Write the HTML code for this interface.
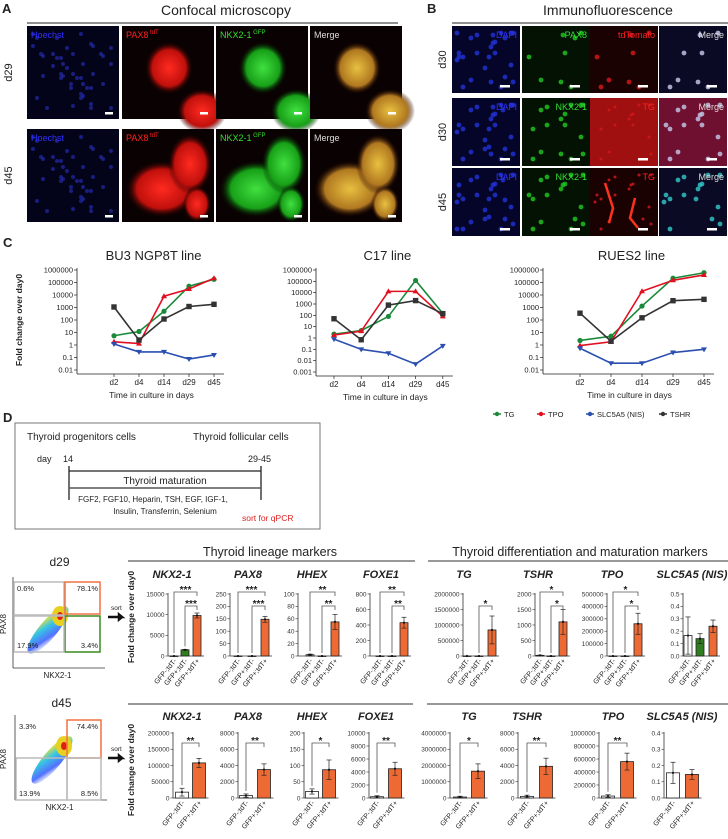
<!DOCTYPE html>
<html><head><meta charset="utf-8"><style>
body{margin:0;background:#fff}
svg{display:block;font-family:"Liberation Sans",sans-serif}
</style></head><body>
<svg id="fig" width="728" height="839" viewBox="0 0 728 839" xmlns="http://www.w3.org/2000/svg">
<defs>
<radialGradient id="gR"><stop offset="0" stop-color="#ff2a20"/><stop offset="0.7" stop-color="#c0100c"/><stop offset="1" stop-color="#200000" stop-opacity="0"/></radialGradient>
<radialGradient id="gG"><stop offset="0" stop-color="#40e040"/><stop offset="0.7" stop-color="#18a018"/><stop offset="1" stop-color="#002000" stop-opacity="0"/></radialGradient>
<radialGradient id="gY"><stop offset="0" stop-color="#e8c040"/><stop offset="0.7" stop-color="#b07820"/><stop offset="1" stop-color="#200000" stop-opacity="0"/></radialGradient>
<linearGradient id="flow" x1="0" y1="1" x2="1" y2="0"><stop offset="0" stop-color="#fff" stop-opacity="0"/><stop offset="0.3" stop-color="#4060ff"/><stop offset="0.6" stop-color="#20c0e0"/><stop offset="0.85" stop-color="#f0e020"/><stop offset="1" stop-color="#e02010"/></linearGradient>
</defs>
<g id="root"></g>
</svg>
<script>
const NS="http://www.w3.org/2000/svg";
const root=document.getElementById('root');
function el(tag,attrs,parent,txt){const e=document.createElementNS(NS,tag);for(const k in attrs)e.setAttribute(k,attrs[k]);if(txt!==undefined)e.textContent=txt;(parent||root).appendChild(e);return e;}
function txt(x,y,s,size,opts,parent){opts=opts||{};const a={x:x,y:y,'font-size':size,fill:opts.fill||'#222'};if(opts.anchor)a['text-anchor']=opts.anchor;if(opts.weight)a['font-weight']=opts.weight;if(opts.style)a['font-style']=opts.style;if(opts.tr)a.transform=opts.tr;return el('text',a,parent,s);}
function scatter(k,w,h){return [((k*37+(k*k*11))%w),((k*53+k*k*7)%h)];}

/* ---------- Panel A / B microscopy ---------- */
const gA=el('g',{});


txt(2,13,'A',13,{weight:'bold'},gA);
txt(226,15,'Confocal microscopy',14,{anchor:'middle'},gA);
el('line',{x1:27,y1:23,x2:398,y2:23,stroke:'#222','stroke-width':1},gA);
const aCols=[27,122,216,310], aW=92, aRows=[[26,93],[129,93]];
const aLab=['Hoechst','PAX8','NKX2-1','Merge'], aCol=['#3030ff','#ff2020','#30e030','#ddd'];
const aSup=['','tdT','GFP',''];
const aFill=[null,'url(#gR)','url(#gG)','url(#gY)'];
aRows.forEach((r,ri)=>{
  txt(12,r[0]+r[1]/2,ri?'d45':'d29',11,{anchor:'middle',tr:`rotate(-90 12 ${r[0]+r[1]/2})`},gA);
  aCols.forEach((x,ci)=>{
    const g=el('g',{},gA);
    
    
    el('rect',{x:x,y:r[0],width:aW,height:r[1],fill:ci==0?'#03031a':'#0a0202'},g);
    if(ci==0){for(let k=0;k<45;k++){const p=scatter(k,80,80);el('circle',{cx:x+6+p[0],cy:r[0]+8+p[1],r:2,fill:'#2228a0',opacity:0.75},g);}}
    else if(ri==0){el('ellipse',{cx:x+47,cy:r[0]+42,rx:24,ry:26,fill:aFill[ci]},g);el('ellipse',{cx:x+80,cy:r[0]+85,rx:25,ry:22,fill:aFill[ci]},g);}
    else{el('ellipse',{cx:x+40,cy:r[0]+60,rx:36,ry:28,fill:aFill[ci]},g);el('ellipse',{cx:x+68,cy:r[0]+35,rx:22,ry:30,fill:aFill[ci]},g);el('ellipse',{cx:x+75,cy:r[0]+75,rx:14,ry:18,fill:aFill[ci]},g);}
    const t=txt(x+4,r[0]+12,aLab[ci],9,{fill:aCol[ci]},g);
    if(aSup[ci]){el('tspan',{'font-size':6,dy:-4},t,' '+aSup[ci]);}
    el('rect',{x:x+aW-14,y:r[0]+r[1]-7,width:8,height:2.5,fill:'#fff'},g);
  });
});
const gB=el('g',{});


txt(427,13,'B',13,{weight:'bold'},gB);
txt(608,15,'Immunofluorescence',14,{anchor:'middle'},gB);
el('line',{x1:452,y1:23,x2:728,y2:23,stroke:'#222','stroke-width':1},gB);
const bCols=[452,522,590,659], bW=68;
const bRows=[[26,67,'d30',['DAPI','PAX8','tdTomato','Merge']],[98,68,'d30',['DAPI','NKX2-1','TG','Merge']],[168,68,'d45',['DAPI','NKX2-1','TG','Merge']]];
const bTxtCol=['#3030ff','#30e030','#ff2020','#ddd'];
bRows.forEach((r,ri)=>{
  txt(446,r[0]+r[1]/2,r[2],11,{anchor:'middle',tr:`rotate(-90 446 ${r[0]+r[1]/2})`},gB);
  bCols.forEach((x,ci)=>{
    const g=el('g',{},gB);
    
    
    const bg=ci==0?'#05052a':ci==1?'#031203':ci==2?(ri==1?'#a01010':'#1a0202'):(ri==1?'#701030':'#0a0a25');
    el('rect',{x:x,y:r[0],width:bW,height:r[1],fill:bg},g);
    const dotF=ci==0?'#2030d0':ci==1?'#20c020':ci==2?'#d01818':(ri==2?'#30c0c0':'#c0c0e0');
    const n=ci==0?26:(ri==0?8:16);
    for(let k=0;k<n;k++){const p=scatter(k+ri*3+ci,58,55);el('circle',{cx:x+5+p[0],cy:r[0]+7+p[1],r:ci==2&&ri>0?1.5:2.4,fill:dotF,opacity:0.85},g);}
    if(ci==2&&ri==2){el('path',{d:`M${x+15} ${r[0]+15} l8 25 l-4 15 M${x+45} ${r[0]+30} l-5 20 l8 10`,stroke:'#ff3020','stroke-width':2.5,fill:'none'},g);}
    txt(x+bW-3,r[0]+12,r[3][ci],9,{fill:bTxtCol[ci],anchor:'end'},g);
    el('rect',{x:x+bW-20,y:r[0]+r[1]-8,width:10,height:2.5,fill:'#fff'},g);
  });
});

/* ---------- Panel C: log line charts ---------- */
const days=["d2","d4","d14","d29","d45"];
const bu3TG=[5.5,12,500,50000,180000];
const bu3TPO=[1.8,1.3,8000,30000,220000];
const bu3NIS=[1.2,0.28,0.28,0.075,0.16];
const bu3TSHR=[1100,2.5,120,1200,1800];
const c17TG=[2.2,4.5,80,120000,150];
const c17TPO=[1.8,4,13000,13000,80];
const c17NIS=[0.8,0.1,0.045,0.005,0.2];
const c17TSHR=[50,0.7,800,2000,140];
const ruTG=[2.3,5,1300,220000,600000];
const ruTPO=[0.9,1.8,20000,150000,400000];
const ruNIS=[0.55,0.035,0.035,0.25,0.45];
const ruTSHR=[350,2,150,3500,4500];
const seriesNames=["TG","TPO","SLC5A5 (NIS)","TSHR"];
const seriesColors=["#1a8a3a","#e01020","#2a4fb0","#333333"];
const tickLabelsLog=["0.001","0.01","0.1","1","10","100","1000","10000","100000","1000000"];

txt(3,247,'C',13,{weight:'bold'});
function logChart(name,title,axisX,x0,dx,minExp,yTop,yBot,series){
  const g=el('g',{});
  
  
  const ys=v=>yBot-(Math.log10(v)-minExp)/(6-minExp)*(yBot-yTop);
  const xs=i=>x0+i*dx;
  txt((axisX+xs(4))/2+8,260,title,13,{anchor:'middle'},g);
  el('line',{x1:axisX,y1:yTop-2,x2:axisX,y2:yBot+4,stroke:'#222','stroke-width':0.8},g);
  el('line',{x1:axisX,y1:yBot+4,x2:xs(4)+10,y2:yBot+4,stroke:'#222','stroke-width':0.8},g);
  for(let e=minExp;e<=6;e++){const y=ys(Math.pow(10,e));el('line',{x1:axisX-3,y1:y,x2:axisX,y2:y,stroke:'#222','stroke-width':0.7},g);
    const t=txt(axisX-4,y+2.5,tickLabelsLog[e+3],7.5,{anchor:'end'},g);}
  days.forEach((d,i)=>{el('line',{x1:xs(i),y1:yBot+4,x2:xs(i),y2:yBot+7,stroke:'#222','stroke-width':0.7},g);txt(xs(i),yBot+15,d,8,{anchor:'middle'},g);});
  txt((axisX+xs(4))/2+6,yBot+28,'Time in culture in days',8.5,{anchor:'middle'},g);
  series.forEach((s,si)=>{
    const p=el('polyline',{points:s.map((v,i)=>xs(i)+','+ys(v)).join(' '),fill:'none',stroke:seriesColors[si],'stroke-width':1.6},g);
    
    
    s.forEach((v,i)=>{let m;
      if(si==0)m=el('circle',{cx:xs(i),cy:ys(v),r:2.6,fill:seriesColors[si]},g);
      else if(si==3)m=el('rect',{x:xs(i)-2.7,y:ys(v)-2.7,width:5.4,height:5.4,fill:seriesColors[si]},g);
      else if(si==1)m=el('path',{d:`M${xs(i)} ${ys(v)-3}l3 5h-6z`,fill:seriesColors[si]},g);
      else m=el('path',{d:`M${xs(i)} ${ys(v)+3}l3 -5h-6z`,fill:seriesColors[si]},g);
      });
  });
}
logChart('chart-bu3','BU3 NGP8T line',77,114,25,-2,270,370,[bu3TG,bu3TPO,bu3NIS,bu3TSHR]);
logChart('chart-c17','C17 line',316,334,27.2,-3,270,372,[c17TG,c17TPO,c17NIS,c17TSHR]);
logChart('chart-rues2','RUES2 line',543,580,31,-2,270,370,[ruTG,ruTPO,ruNIS,ruTSHR]);
txt(22,320,'Fold change over day0',8.5,{anchor:'middle',weight:'bold',tr:'rotate(-90 22 320)'});
const legX=[497,541,590,663];
seriesNames.forEach((n,i)=>{const g=el('g',{});
  el('line',{x1:legX[i]-4,y1:414,x2:legX[i]+4,y2:414,stroke:seriesColors[i],'stroke-width':1.5},g);
  el('circle',{cx:legX[i],cy:414,r:2.2,fill:seriesColors[i]},g);
  txt(legX[i]+7,417,n,7.5,{},g);});

/* ---------- Panel D schematic ---------- */
const gD=el('g',{});


txt(3,422,'D',13,{weight:'bold'},gD);
el('rect',{x:15,y:423,width:305,height:106,fill:'none',stroke:'#777','stroke-width':1},gD);
txt(27,440,'Thyroid progenitors cells',10,{},gD);
txt(193,440,'Thyroid follicular cells',10,{},gD);
txt(37,462,'day',9,{},gD);txt(63,462,'14',9,{},gD);txt(248,462,'29-45',9,{},gD);
el('line',{x1:69,y1:466,x2:69,y2:500,stroke:'#222','stroke-width':1.3},gD);
el('line',{x1:261,y1:466,x2:261,y2:500,stroke:'#222','stroke-width':1.3},gD);
el('line',{x1:69,y1:471,x2:261,y2:471,stroke:'#222','stroke-width':1.2},gD);
el('line',{x1:69,y1:488,x2:261,y2:488,stroke:'#555','stroke-width':1.5},gD);
txt(165,484,'Thyroid maturation',10,{anchor:'middle'},gD);
txt(153,502,'FGF2, FGF10, Heparin, TSH, EGF, IGF-1,',8,{anchor:'middle'},gD);
txt(165,514,'Insulin, Transferrin, Selenium',8,{anchor:'middle'},gD);
txt(242,521,'sort for qPCR',8.5,{fill:'#e02020'},gD);

/* ---------- Flow plots ---------- */
function flow(name,label,ly,ax0,ay0,ax1,ay1,sx,sy,boxes,pcts,arrowY){
  const g=el('g',{});
  
  
  txt((ax0+ax1)/2+2,ly,label,12,{anchor:'middle'},g);
  el('line',{x1:ax0,y1:ay0-3,x2:ax0,y2:ay1,stroke:'#333','stroke-width':0.8},g);
  el('line',{x1:ax0,y1:ay1,x2:ax1+3,y2:ay1,stroke:'#333','stroke-width':0.8},g);
  el('ellipse',{cx:sx,cy:sy,rx:30,ry:9,fill:'url(#flow)',transform:`rotate(-50 ${sx} ${sy})`,opacity:0.9},g);
  el('ellipse',{cx:sx+12,cy:sy-14,rx:8,ry:10,fill:'#e8d020'},g);
  el('ellipse',{cx:sx+12,cy:sy-14,rx:3,ry:4,fill:'#e02010'},g);
  boxes.forEach(b=>el('rect',{x:b[0],y:b[1],width:b[2],height:b[3],fill:'none',stroke:b[4],'stroke-width':1.5},g));
  pcts.forEach(p=>txt(p[0],p[1],p[2],7.5,{anchor:p[3]},g));
  txt(6,(ay0+ay1)/2,'PAX8',8,{anchor:'middle',tr:`rotate(-90 6 ${(ay0+ay1)/2})`},g);
  txt((ax0+ax1)/2,ay1+10,'NKX2-1',8,{anchor:'middle'},g);
  txt(111,arrowY-7,'sort',6.5,{},g);
  el('path',{d:`M108 ${arrowY}h14l-3 -2.5v5l3 -2.5`,stroke:'#111','stroke-width':2.5,fill:'none'},g);
}
flow('flow-plot-d29','d29',566,13,580,102,668,48,630,
 [[14,582,50,33,'#bbb'],[65,582,35,32,'#f07040'],[65,616,35,36,'#3a8a20'],[14,616,50,36,'#bbb']],
 [[17,591,'0.6%','start'],[98,591,'78.1%','end'],[17,648,'17.9%','start'],[98,648,'3.4%','end']],617);
flow('flow-plot-d45','d45',707,15,718,104,800,52,760,
 [[67,720,34,38,'#f07040'],[16,758,51,42,'#bbb'],[67,758,34,42,'#bbb']],
 [[19,729,'3.3%','start'],[98,729,'74.4%','end'],[19,796,'13.9%','start'],[98,796,'8.5%','end']],758);

/* ---------- Bar charts ---------- */
const cats3=["GFP-;tdT-","GFP+;tdT-","GFP+;tdT+"];
const cats2=["GFP-;tdT-","GFP+;tdT+"];
const barColors3=["#ffffff","#2e7d1e","#ee6a35"];
const barColors2=["#ffffff","#ee6a35"];
// row 1 (d29)
const r1Genes=["NKX2-1","PAX8","HHEX","FOXE1","TG","TSHR","TPO","SLC5A5 (NIS)"];
const r1Max=[15000,250,100,800,2000000,2000,500000,0.5];
const r1Step=[5000,50,20,200,500000,500,100000,0.1];
const r1Vals=[[0,1500,9800],[0,0,148],[2,0,55],[0,0,430],[0,0,840000],[20,0,1100],[0,0,260000],[0.165,0.14,0.24]];
const r1Err=[[0,100,600],[0,0,12],[1,0,12],[0,0,70],[0,0,450000],[10,0,400],[0,0,85000],[0.15,0.04,0.05]];
const r1Sig=[["***","***"],["***","***"],["**","**"],["**","**"],["","*"],["*","*"],["*","*"],["",""]];
// row 2 (d45)
const r2Max=[200000,8000,200,10000,4000000,8000,1000000,0.4];
const r2Step=[50000,2000,50,2000,1000000,2000,200000,0.1];
const r2Vals=[[18000,108000],[300,3500],[20,87],[200,4500],[60000,1650000],[200,3900],[30000,560000],[0.155,0.145]];
const r2Err=[[12000,14000],[200,700],[8,30],[150,1000],[50000,450000],[150,1000],[20000,130000],[0.065,0.03]];
const r2Sig=["**","**","*","**","*","**","**",""];

function barChart(name,gene,titleX,titleY,axisX,centers,bw,top,base,max,step,vals,errs,colors,cats,sigs,sigY){
  const g=el('g',{});
  
  
  const ys=v=>base-(v/max)*(base-top);
  const t=txt(titleX,titleY,gene,11,{anchor:'middle',weight:'bold',style:'italic'},g);
  
  el('line',{x1:axisX,y1:top-1,x2:axisX,y2:base,stroke:'#333','stroke-width':0.8},g);
  el('line',{x1:axisX,y1:base,x2:centers[centers.length-1]+bw/2+3,y2:base,stroke:'#333','stroke-width':0.8},g);
  const nT=Math.round(max/step);
  for(let k=0;k<=nT;k++){const v=k*step,y=ys(v);el('line',{x1:axisX-2.5,y1:y,x2:axisX,y2:y,stroke:'#333','stroke-width':0.6},g);
    const lab=step<1?v.toFixed(1):String(Math.round(v));
    const tl=txt(axisX-3.5,y+2.3,lab,6.5,{anchor:'end',fill:'#333'},g);}
  vals.forEach((v,i)=>{
    const cx=centers[i];
    const r=el('rect',{x:cx-bw/2,y:ys(v),width:bw,height:Math.max(0.5,base-ys(v)),fill:colors[i],stroke:'#222','stroke-width':0.8},g);
    
    if(errs[i]>0){const y1=ys(v+errs[i]),y2=ys(Math.max(0,v-errs[i]));
      el('line',{x1:cx,y1:y1,x2:cx,y2:y2,stroke:'#222','stroke-width':0.7},g);
      el('line',{x1:cx-2.5,y1:y1,x2:cx+2.5,y2:y1,stroke:'#222','stroke-width':0.7},g);
      el('line',{x1:cx-2.5,y1:y2,x2:cx+2.5,y2:y2,stroke:'#222','stroke-width':0.7},g);}
    el('circle',{cx:cx,cy:ys(v),r:1.1,fill:'#111'},g);
    const lx=cx+3,ly=base+5;
    const tx=txt(lx,ly,cats[i],7,{anchor:'end',fill:'#222',tr:`rotate(-50 ${lx} ${ly})`},g);
    
  });
  const last=centers.length-1;
  sigs.forEach((s,k)=>{ if(!s)return;
    const from=(sigs.length==2&&k==0)?0:last-1;
    const y=sigY[k];
    el('path',{d:`M${centers[from]} ${ys(vals[from]+errs[from])-3}V${y}H${centers[last]}V${y+4}`,fill:'none',stroke:'#555','stroke-width':0.8},g);
    txt((centers[from]+centers[last])/2,y+1,s,10,{anchor:'middle',weight:'bold'},g);
  });
}
const gH=el('g',{});


txt(270,556,'Thyroid lineage markers',12.5,{anchor:'middle'},gH);
el('line',{x1:128,y1:561,x2:415,y2:561,stroke:'#333','stroke-width':1},gH);
txt(580,556,'Thyroid differentiation and maturation markers',12.5,{anchor:'middle'},gH);
el('line',{x1:428,y1:561,x2:728,y2:561,stroke:'#333','stroke-width':1},gH);
el('line',{x1:128,y1:704,x2:413,y2:704,stroke:'#333','stroke-width':1},gH);
el('line',{x1:427,y1:704,x2:728,y2:704,stroke:'#333','stroke-width':1},gH);
txt(134,617,'Fold change over day0',8.5,{anchor:'middle',weight:'bold',tr:'rotate(-90 134 617)'},gH);
txt(134,770,'Fold change over day0',8.5,{anchor:'middle',weight:'bold',tr:'rotate(-90 134 770)'},gH);

const r1Axis=[168,230,298,370,463,535,607,683];
const r1Title=[172,248,312,381,464,538,612,692];
const r1C=[[174,185,197],[238,252,265],[310,322,335],[380,392,404],[467,479,492],[540,551,563],[613,625,638],[688,700,713]];
r1Genes.forEach((gname,i)=>{
  const sg=r1Sig[i];
  barChart('bar-chart-d29-'+gname.toLowerCase().replace(/[^a-z0-9]+/g,'-'),gname,r1Title[i],578,r1Axis[i],r1C[i],8,594,656,r1Max[i],r1Step[i],r1Vals[i],r1Err[i],barColors3,cats3,sg[0]||sg[1]?[sg[0],sg[1]]:[],[592,606]);
});
const r2Axis=[173,238,304,369,450,518,599,664];
const r2Title=[182,248,312,376,469,527,613,682];
const r2C=[[182,199],[246,264],[312,329],[377,395],[460,478],[527,546],[608,627],[673,692]];
r1Genes.forEach((gname,i)=>{
  barChart('bar-chart-d45-'+gname.toLowerCase().replace(/[^a-z0-9]+/g,'-'),gname,r2Title[i],720,r2Axis[i],r2C[i],13,733,798,r2Max[i],r2Step[i],r2Vals[i],r2Err[i],barColors2,cats2,r2Sig[i]?[r2Sig[i]]:[],[743]);
});
</script>
</body></html>
